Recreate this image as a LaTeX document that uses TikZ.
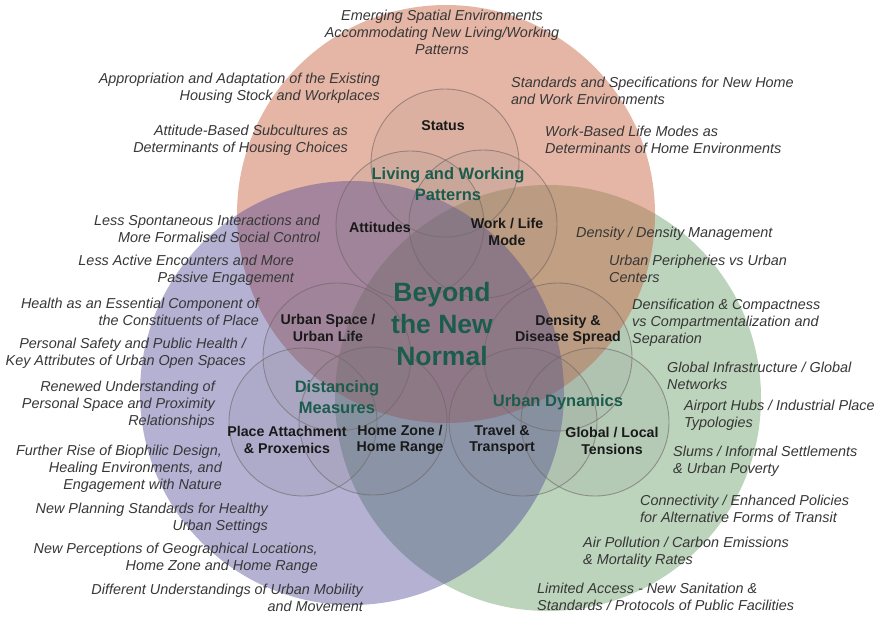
\documentclass[tikz,border=0pt]{standalone}
\usepackage{fontspec}
\setmainfont{Liberation Sans}

\definecolor{salmonfill}{RGB}{201,103,68}
\definecolor{purplefill}{RGB}{68,60,145}
\definecolor{greenfill}{RGB}{121,167,121}
\definecolor{ringgray}{RGB}{110,100,100}
\definecolor{labelgray}{RGB}{55,55,55}
\definecolor{innerblack}{RGB}{25,25,25}
\definecolor{tealtext}{RGB}{28,92,76}

\tikzset{
  outerlabel/.style={font=\fontsize{14.4}{17}\selectfont\itshape, text=labelgray, inner sep=0pt},
  innerlabel/.style={font=\fontsize{14.2}{16.5}\selectfont\bfseries, text=innerblack, align=center, inner sep=0pt},
  clusterlabel/.style={font=\fontsize{16.5}{21}\selectfont\bfseries, text=tealtext, align=center, inner sep=0pt},
  titlelabel/.style={font=\fontsize{26.5}{32}\selectfont\bfseries, text=tealtext, align=center, inner sep=0pt},
  subcircle/.style={draw=ringgray, draw opacity=0.6, fill=gray, fill opacity=0.1, line width=0.9pt}
}

\begin{document}
\begin{tikzpicture}[x=1pt,y=-1pt]
  \useasboundingbox (0,0) rectangle (877,618);

  % Big circles
  \fill[greenfill,opacity=0.5] (548,398) circle [radius=213];
  \fill[salmonfill,opacity=0.48] (446,214) circle [radius=209];
  \fill[purplefill,opacity=0.4] (352,393) circle [radius=212];

  % Small circles
  \foreach \cx/\cy in {445/163,410/225,483/224,337/357,303/422,373/421,558/357,523/422,595/422}{
    \filldraw[subcircle] (\cx,\cy) circle [radius=74];
  }

  % Centre
  \node[titlelabel] (beyond) at (442,324) {Beyond\\the New\\Normal};

  % Cluster titles
  \node[clusterlabel] (living) at (448,184) {Living and Working\\Patterns};
  \node[clusterlabel] (distancing) at (337,397) {Distancing\\Measures};
  \node[clusterlabel] (dynamics) at (558,402) {Urban Dynamics};

  % Inner labels
  \node[innerlabel] (status) at (443,126) {Status};
  \node[innerlabel] (attitudes) at (380,227) {Attitudes};
  \node[innerlabel] (worklife) at (507,232) {Work / Life\\Mode};
  \node[innerlabel] (urbanspace) at (328,328) {Urban Space /\\Urban Life};
  \node[innerlabel] (place) at (287,440) {Place Attachment\\\& Proxemics};
  \node[innerlabel] (homezone) at (400,440) {Home Zone /\\Home Range};
  \node[innerlabel] (density) at (568,330) {Density \&\\Disease Spread};
  \node[innerlabel] (travel) at (502,440) {Travel \&\\Transport};
  \node[innerlabel] (global) at (612,441) {Global / Local\\Tensions};

  % Top label
  \node[outerlabel,align=center] (emerging) at (442,32) {Emerging Spatial Environments\\Accommodating New Living/Working\\Patterns};

  % Left labels
  \node[outerlabel,align=right,anchor=east] (appropriation) at (380,88.5) {Appropriation and Adaptation of the Existing\\Housing Stock and Workplaces};
  \node[outerlabel,align=right,anchor=east] (subcultures) at (348,140) {Attitude-Based Subcultures as\\Determinants of Housing Choices};
  \node[outerlabel,align=right,anchor=east] (spontaneous) at (320,229) {Less Spontaneous Interactions and\\More Formalised Social Control};
  \node[outerlabel,align=right,anchor=east] (encounters) at (294,270.5) {Less Active Encounters and More\\Passive Engagement};
  \node[outerlabel,align=right,anchor=east] (health) at (259,311.5) {Health as an Essential Component of\\the Constituents of Place};
  \node[outerlabel,align=right,anchor=east] (safety) at (246,353.5) {Personal Safety and Public Health /\\Key Attributes of Urban Open Spaces};
  \node[outerlabel,align=right,anchor=east] (renewed) at (215,405) {Renewed Understanding of\\Personal Space and Proximity\\Relationships};
  \node[outerlabel,align=right,anchor=east] (biophilic) at (222,469) {Further Rise of Biophilic Design,\\Healing Environments, and\\Engagement with Nature};
  \node[outerlabel,align=right,anchor=east] (planning) at (268,518.5) {New Planning Standards for Healthy\\Urban Settings};
  \node[outerlabel,align=right,anchor=east] (perceptions) at (318,558.5) {New Perceptions of Geographical Locations,\\Home Zone and Home Range};
  \node[outerlabel,align=right,anchor=east] (mobility) at (363,598) {Different Understandings of Urban Mobility\\and Movement};

  % Right labels
  \node[outerlabel,align=left,anchor=west] (standards) at (511,91) {Standards and Specifications for New Home\\and Work Environments};
  \node[outerlabel,align=left,anchor=west] (lifemodes) at (545,140) {Work-Based Life Modes as\\Determinants of Home Environments};
  \node[outerlabel,align=left,anchor=west] (densitymgmt) at (576,234) {Density / Density Management};
  \node[outerlabel,align=left,anchor=west] (peripheries) at (609,269) {Urban Peripheries vs Urban\\Centers};
  \node[outerlabel,align=left,anchor=west] (densification) at (632,323) {Densification \& Compactness\\vs Compartmentalization and\\Separation};
  \node[outerlabel,align=left,anchor=west] (infrastructure) at (667,375.5) {Global Infrastructure / Global\\Networks};
  \node[outerlabel,align=left,anchor=west] (airport) at (684,415.5) {Airport Hubs / Industrial Place\\Typologies};
  \node[outerlabel,align=left,anchor=west] (slums) at (673,461) {Slums / Informal Settlements\\\& Urban Poverty};
  \node[outerlabel,align=left,anchor=west] (connectivity) at (640,508.5) {Connectivity / Enhanced Policies\\for Alternative Forms of Transit};
  \node[outerlabel,align=left,anchor=west] (pollution) at (583,552) {Air Pollution / Carbon Emissions\\\& Mortality Rates};
  \node[outerlabel,align=left,anchor=west] (access) at (537,596.5) {Limited Access - New Sanitation \&\\Standards / Protocols of Public Facilities};
\end{tikzpicture}
\end{document}
